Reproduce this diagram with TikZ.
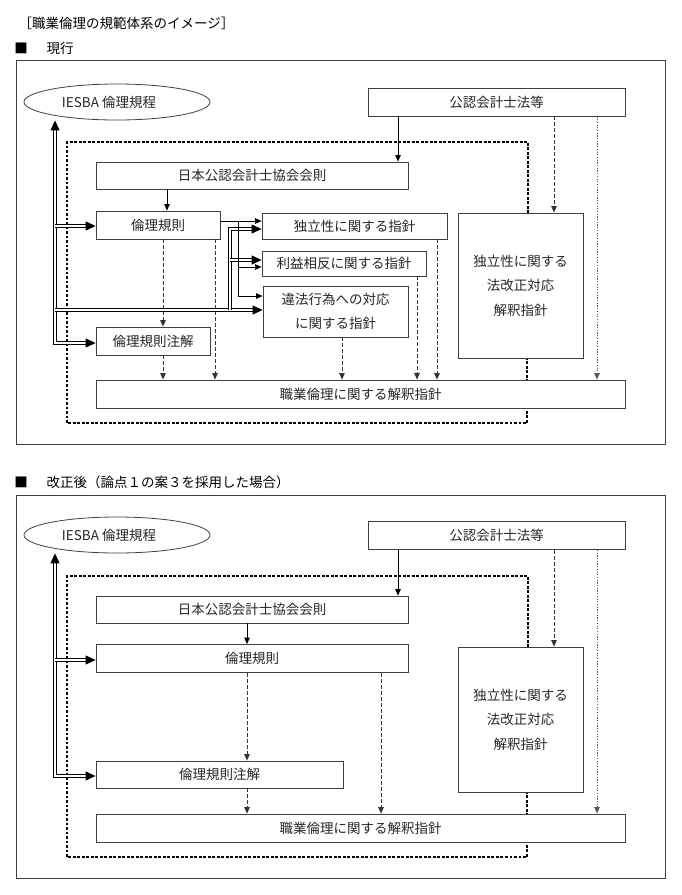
\documentclass[tikz,border=0pt]{standalone}
\usepackage{fontspec}
\setmainfont{Noto Sans CJK JP}
\usetikzlibrary{arrows.meta,shapes.geometric}
\begin{document}
\begin{tikzpicture}[x=1pt,y=-1pt,font=\fontsize{13.5}{24.5}\selectfont,
smalltip/.tip={Triangle[length=6.5pt,width=5.5pt]},
bigtip/.tip={Triangle[length=10pt,width=9pt]},
box/.style={draw=black!75,line width=.8pt,fill=white,inner sep=0pt,text=black!85},
sarr/.style={-smalltip,line width=.8pt},
dsh/.style={sarr,black!80,line width=.9pt,dash pattern=on 4pt off 2pt},
dotarr/.style={sarr,black!65,line width=.7pt,dash pattern=on 1.2pt off 1.5pt},
dbl/.style={double,double distance=1.6pt,line width=.9pt},
fence/.style={line width=2.6pt,dash pattern=on 2.6pt off 1.9pt}]
\useasboundingbox(0,0)rectangle(681,895);
\node[anchor=west](cap)at(15,23){［職業倫理の規範体系のイメージ］};
% 現行
\node(sq1)at(21,48){■};
\node[anchor=west](head1)at(43,48){現行};
\draw[black!75,line width=.9pt](16,60)rectangle(665,444);
\draw[fence](528,213)--(528,142)--(67,142)--(67,423)--(527,423)--(527,358);
\node[box,ellipse,minimum width=186pt,minimum height=36pt](iesba)at(117,102){\hspace*{-16pt}IESBA 倫理規程};
\node[box,minimum width=257pt,minimum height=28pt](law)at(496.5,102){公認会計士法等};
\node[box,minimum width=312pt,minimum height=27pt](jicpa)at(252,175.5){日本公認会計士協会会則};
\node[box,minimum width=124pt,minimum height=28pt](rules)at(158,225){倫理規則};
\node[box,minimum width=185pt,minimum height=26pt](indep)at(354.5,226){独立性に関する指針};
\node[box,minimum width=164pt,minimum height=25pt](coi)at(344,263.5){利益相反に関する指針};
\node[box,minimum width=145pt,minimum height=51pt,align=center](noclar)at(335.5,311.5){違法行為への対応\\に関する指針};
\node[box,minimum width=114pt,minimum height=28pt](notes)at(153,341){倫理規則注解};
\node[box,minimum width=125pt,minimum height=145pt,align=center](lawind)at(520.5,285.5){独立性に関する\\法改正対応\\解釈指針};
\node[box,minimum width=529pt,minimum height=28pt](interp)at(360.5,394){職業倫理に関する解釈指針};
\draw[sarr](law.south-|398,0)--(jicpa.north-|398,0);
\draw[dsh](law.south-|554,0)--(lawind.north-|554,0);
\draw[dotarr](law.south-|597,0)--(interp.north-|597,0);
\draw[sarr](jicpa.south-|167,0)--(rules.north-|167,0);
\draw[dsh](rules.south-|163,0)--(notes.north-|163,0);
\draw[dsh](notes.south-|163,0)--(interp.north-|163,0);
\draw[dsh](rules.south-|215,0)--(interp.north-|215,0);
\draw[dsh](noclar.south-|342,0)--(interp.north-|342,0);
\draw[dsh](coi.south-|417,0)--(interp.north-|417,0);
\draw[dsh](indep.south-|437,0)--(interp.north-|437,0);
\draw[dbl,bigtip-bigtip](notes.west|-0,343)-|(iesba.south-|55,0);
\draw[dbl,-bigtip](55,226)--(rules.west|-0,226);
\draw[dbl,-bigtip](55,310)--(noclar.west|-0,310);
\draw[dbl,-bigtip](230,310)|-(indep.west|-0,229);
\draw[dbl,-bigtip](230,260)--(coi.west|-0,260);
\draw[sarr](rules.east|-0,221)--(indep.west|-0,221);
\draw[sarr](238,221)|-(coi.west|-0,267);
\draw[sarr](238,221)|-(noclar.west|-0,296);
% 改正後
\node(sq2)at(21,482){■};
\node[anchor=west](head2)at(43,482){改正後（論点１の案３を採用した場合）};
\draw[black!75,line width=.9pt](16,495)rectangle(665,878);
\draw[fence](528,647)--(528,576)--(67,576)--(67,857)--(527,857)--(527,792);
\node[box,ellipse,minimum width=186pt,minimum height=36pt](iesbaB)at(117,535){\hspace*{-16pt}IESBA 倫理規程};
\node[box,minimum width=257pt,minimum height=28pt](lawB)at(496.5,535.5){公認会計士法等};
\node[box,minimum width=312pt,minimum height=27pt](jicpaB)at(252,609.5){日本公認会計士協会会則};
\node[box,minimum width=312pt,minimum height=28pt](rulesB)at(252,658.5){倫理規則};
\node[box,minimum width=247pt,minimum height=27pt](notesB)at(219.5,774.5){倫理規則注解};
\node[box,minimum width=125pt,minimum height=145pt,align=center](lawindB)at(520.5,719.5){独立性に関する\\法改正対応\\解釈指針};
\node[box,minimum width=529pt,minimum height=28pt](interpB)at(360.5,828){職業倫理に関する解釈指針};
\draw[sarr](lawB.south-|398,0)--(jicpaB.north-|398,0);
\draw[dsh](lawB.south-|554,0)--(lawindB.north-|554,0);
\draw[dotarr](lawB.south-|597,0)--(interpB.north-|597,0);
\draw[sarr](jicpaB.south-|247,0)--(rulesB.north-|247,0);
\draw[dsh](rulesB.south-|247,0)--(notesB.north-|247,0);
\draw[dsh](notesB.south-|247,0)--(interpB.north-|247,0);
\draw[dsh](rulesB.south-|381,0)--(interpB.north-|381,0);
\draw[dbl,bigtip-bigtip](notesB.west|-0,776)-|(iesbaB.south-|55,0);
\draw[dbl,-bigtip](55,660)--(rulesB.west|-0,660);
\end{tikzpicture}
\end{document}
